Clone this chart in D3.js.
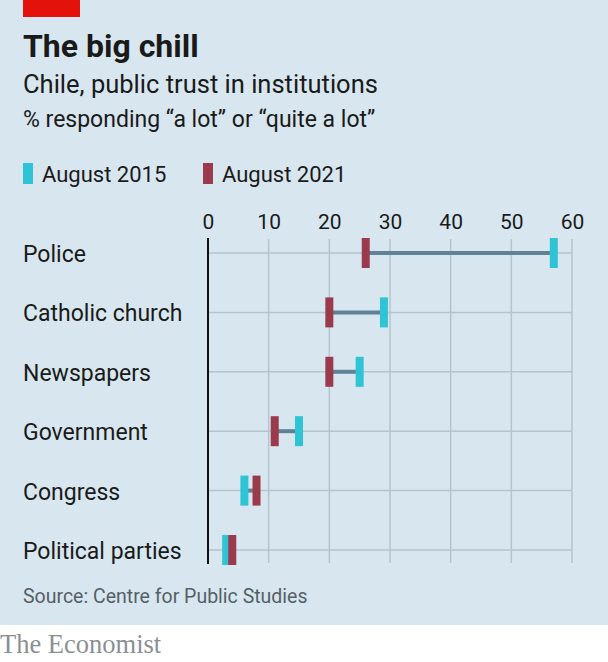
<!DOCTYPE html>
<html>
<head>
<meta charset="utf-8">
<script src="https://cdn.jsdelivr.net/npm/d3@7"></script>
<style>
  body { margin: 0; background: #fff; }
  text { font-family: Roboto, "Noto Sans", sans-serif; }
  text.brand { font-family: "Liberation Serif", "DejaVu Serif", serif; }
</style>
</head>
<body>
<svg id="chart"></svg>
<script>
const categories = ["Police", "Catholic church", "Newspapers", "Government", "Congress", "Political parties"];
const aug2015 = [57, 29, 25, 15, 6, 3];
const aug2021 = [26, 20, 20, 11, 8, 4];
const xTicks = [0, 10, 20, 30, 40, 50, 60];
const seriesNames = ["August 2015", "August 2021"];

const width = 608, height = 662;
const bg = "#d8e7ef";
const cyan = "#2fc3d6";
const maroon = "#9b3a4c";

const svg = d3.select("#chart").attr("width", width).attr("height", height);

// panel background + red tag
svg.append("rect").attr("width", width).attr("height", 625).attr("fill", bg);
svg.append("rect").attr("x", 23).attr("y", 0).attr("width", 57).attr("height", 17).attr("fill", "#e3120b");

svg.append("text").attr("x", 23).attr("y", 57).attr("font-size", 32).attr("font-weight", "bold")
  .attr("fill", "#1a1a1a").text("The big chill");
svg.append("text").attr("x", 23).attr("y", 93).attr("font-size", 25.5)
  .attr("fill", "#1a1a1a").text("Chile, public trust in institutions");
svg.append("text").attr("x", 23).attr("y", 127).attr("font-size", 23)
  .attr("fill", "#1a1a1a").text("% responding \u201ca lot\u201d or \u201cquite a lot\u201d");

// legend
const legend = svg.append("g");
const legX = [23, 203];
seriesNames.forEach((name, i) => {
  legend.append("rect").attr("x", legX[i]).attr("y", 163).attr("width", 10).attr("height", 21)
    .attr("fill", i === 0 ? cyan : maroon);
  legend.append("text").attr("x", legX[i] + 19).attr("y", 182).attr("font-size", 22)
    .attr("fill", "#1a1a1a").text(name);
});

var x = d3.scaleLinear().domain([0, 60]).range([208, 572]);
var y = d3.scalePoint().domain(categories).range([253, 550]);

const g = svg.append("g");

// vertical gridlines
g.selectAll(".vgrid")
  .data(xTicks.slice(1))
  .enter()
  .append("line")
  .attr("x1", d => x(d)).attr("x2", d => x(d))
  .attr("y1", 239).attr("y2", 563)
  .attr("stroke", "#b5c4cc").attr("stroke-width", 1.5);

// horizontal gridlines
g.selectAll(".hgrid")
  .data(categories)
  .enter()
  .append("line")
  .attr("x1", x(0)).attr("x2", x(60))
  .attr("y1", d => y(d)).attr("y2", d => y(d))
  .attr("stroke", "#b5c4cc").attr("stroke-width", 1.5);

// top axis labels
const axis = g.append("g")
  .attr("transform", "translate(0,229)")
  .call(d3.axisTop(x).tickValues(xTicks).tickSize(0).tickPadding(0));
axis.select(".domain").remove();
axis.selectAll("text").attr("font-size", 21).attr("fill", "#1a1a1a")
  .attr("font-family", "Roboto, sans-serif").attr("dy", 0);

// zero line
g.append("line").attr("x1", x(0)).attr("x2", x(0)).attr("y1", 238).attr("y2", 564)
  .attr("stroke", "#111").attr("stroke-width", 2);

// category labels
g.selectAll(".cat")
  .data(categories)
  .enter()
  .append("text")
  .attr("x", 23).attr("y", d => y(d) + 9)
  .attr("font-size", 23).attr("fill", "#1a1a1a")
  .text(d => d);

// connectors
g.selectAll(".conn")
  .data(categories)
  .enter()
  .append("line")
  .attr("x1", (d, i) => x(aug2015[i])).attr("x2", (d, i) => x(aug2021[i]))
  .attr("y1", d => y(d)).attr("y2", d => y(d))
  .attr("stroke", "#5f8294").attr("stroke-width", 4);

const mw = 8, mh = 30;
g.selectAll(".m2015")
  .data(categories)
  .enter()
  .append("rect")
  .attr("x", (d, i) => x(aug2015[i]) - mw / 2)
  .attr("y", d => y(d) - mh / 2)
  .attr("width", mw).attr("height", mh)
  .attr("fill", cyan);

g.selectAll(".m2021")
  .data(categories)
  .enter()
  .append("rect")
  .attr("x", (d, i) => x(aug2021[i]) - mw / 2)
  .attr("y", d => y(d) - mh / 2)
  .attr("width", mw).attr("height", mh)
  .attr("fill", maroon);

svg.append("text").attr("x", 23).attr("y", 603).attr("font-size", 19.5)
  .attr("fill", "#555f66").text("Source: Centre for Public Studies");

svg.append("text").attr("class", "brand").attr("x", 0).attr("y", 653).attr("font-size", 26.5)
  .attr("fill", "#8a8f94").text("The Economist");
</script>
</body>
</html>
